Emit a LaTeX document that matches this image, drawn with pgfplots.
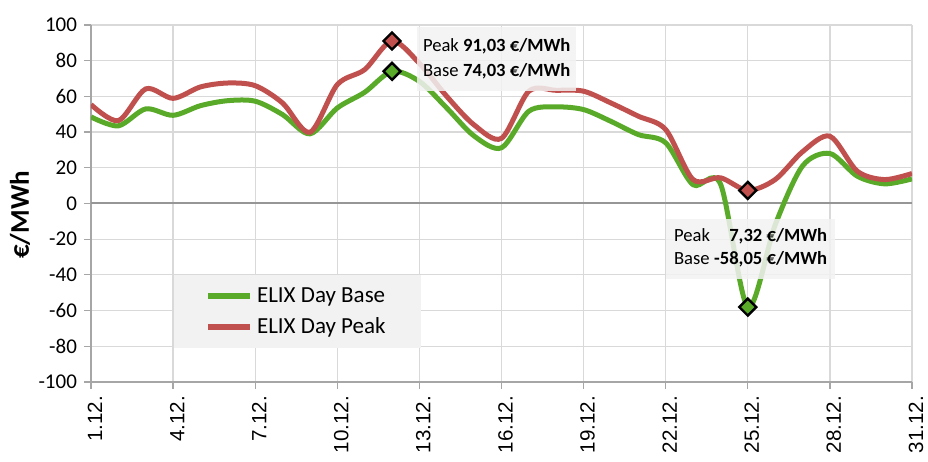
\documentclass[border=0pt]{standalone}
\usepackage{pgfplots}
\pgfplotsset{compat=1.18}
\usepackage{fontspec}
\setmainfont{Carlito}
\newfontfamily\arialfont{Liberation Sans}
\definecolor{base}{HTML}{5AAA2A}
\definecolor{peak}{HTML}{C0504D}
\definecolor{gridc}{HTML}{D9D9D9}
\definecolor{axc}{HTML}{A6A6A6}
\definecolor{zeroc}{HTML}{969696}
\definecolor{boxc}{HTML}{F2F2F2}

\pgfplotstableread{
day base peak
1 48.5 55.4
2 43.5 46.4
3 53.0 64.2
4 49.4 58.9
5 54.8 65.3
6 57.6 67.5
7 57.3 66.0
8 49.8 56.3
9 39.0 39.9
10 53.5 66.6
11 62.3 75.0
12 74.03 91.03
13 68.4 78.5
14 53.5 60.0
15 37.8 44.0
16 31.2 36.5
17 51.7 62.9
18 54.1 63.4
19 52.6 62.9
20 46.0 56.3
21 38.6 48.9
22 34.0 41.4
23 10.5 13.4
24 11.0 14.4
25 -58.05 7.32
26 -12.0 13.4
27 21.0 29.0
28 28.0 37.7
29 15.3 18.1
30 11.0 13.4
31 13.8 16.8
}\datatable

\begin{document}
\begin{tikzpicture}
\begin{axis}[
  scale only axis,
  width=410.5pt, height=178.5pt,
  xmin=1, xmax=31, ymin=-100, ymax=100,
  xtick={1,4,...,31},
  xticklabels={1.12.,4.12.,7.12.,10.12.,13.12.,16.12.,19.12.,22.12.,25.12.,28.12.,31.12.},
  ytick={-100,-80,...,100},
  grid=major,
  grid style={gridc, line width=0.6pt},
  axis x line*=bottom, axis y line*=left,
  axis line style={axc, line width=0.6pt, -},
  tick align=outside,
  major tick length=3.5pt,
  tick style={axc, line width=0.6pt},
  /pgf/number format/assume math mode=true,
  yticklabel style={font=\fontsize{10.5}{12}\selectfont},
  xticklabel style={font=\arialfont\fontsize{10.3}{12}\selectfont, rotate=90, anchor=east, yshift=-2pt},
  ylabel={\textbf{€/MWh}},
  every axis y label/.style={at={(axis description cs:-0.0865,0.468)}, rotate=90, anchor=center, font=\fontsize{13.5}{15}\selectfont},
  legend style={at={(0.1007,0.30)}, anchor=north west, fill=boxc, draw=none,
    font=\fontsize{11.5}{14}\selectfont, inner xsep=15.5pt, inner ysep=4pt, row sep=2pt},
  legend cell align=left,
  legend image code/.code={\draw[#1, line width=3pt] (0pt,0pt) -- (21pt,0pt);},
  clip mode=individual,
]
\draw[zeroc, line width=1pt] (axis cs:1,0) -- (axis cs:31,0);
\addplot[base, line width=2.5pt, smooth, tension=0.5] table[x=day, y=base] {\datatable};
\addlegendentry{ELIX Day Base}
\addplot[peak, line width=2.5pt, smooth, tension=0.5] table[x=day, y=peak] {\datatable};
\addlegendentry{ELIX Day Peak}
\addplot[forget plot, only marks, mark=square*, mark size=3pt,
  mark options={rotate=45, fill=base, draw=black, line width=1.2pt}]
  coordinates {(12,74.03) (25,-58.05)};
\addplot[forget plot, only marks, mark=square*, mark size=3pt,
  mark options={rotate=45, fill=peak, draw=black, line width=1.2pt}]
  coordinates {(12,91.03) (25,7.32)};
\node[fill=boxc, fill opacity=0.85, text opacity=1, anchor=north west,
  inner xsep=3pt, inner ysep=3.5pt, font=\fontsize{9.3}{12.5}\selectfont]
  at (axis cs:12.9,99)
  {\begin{tabular}{@{}l@{\ }r@{}}Peak & \textbf{91,03 €/MWh}\\ Base & \textbf{74,03 €/MWh}\end{tabular}};
\node[fill=boxc, fill opacity=0.85, text opacity=1, anchor=north west,
  inner xsep=4pt, inner ysep=3.5pt, font=\fontsize{9.3}{11.5}\selectfont]
  at (axis cs:22.0,-8.4)
  {\begin{tabular}{@{}l@{\ }r@{}}Peak & \textbf{7,32 €/MWh}\\ Base & \textbf{-58,05 €/MWh}\end{tabular}};
\coordinate (sw) at (rel axis cs:0,0);
\coordinate (ne) at (rel axis cs:1,1);
\end{axis}
\pgfresetboundingbox
\path ([shift={(-45.5pt,-40pt)}]sw) rectangle ([shift={(8pt,12.5pt)}]ne);
\end{tikzpicture}
\end{document}
